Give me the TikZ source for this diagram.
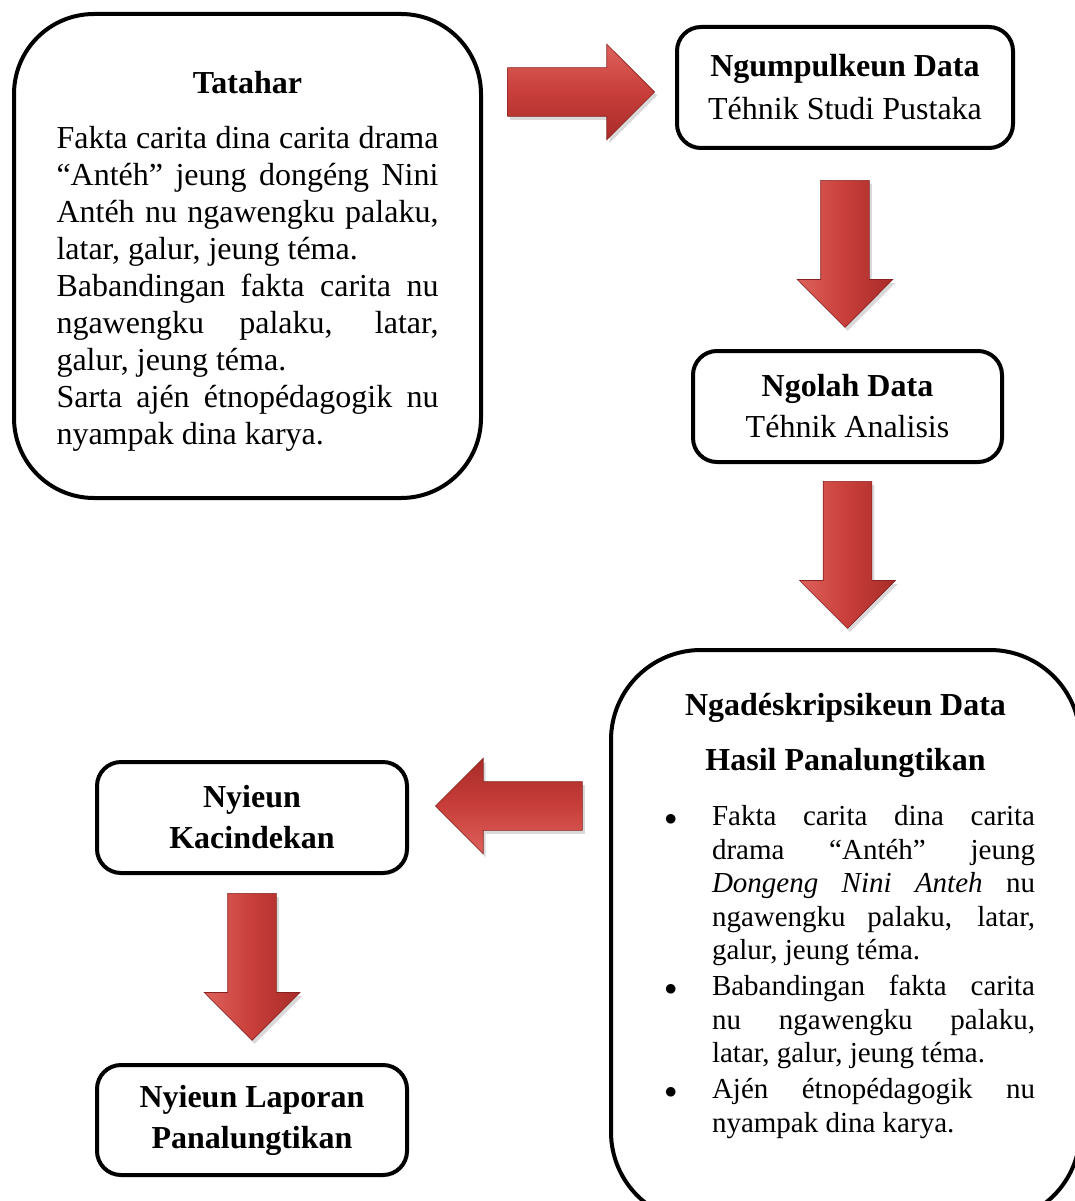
\documentclass[tikz,border=0pt]{standalone}
\usepackage{fontspec}
\setmainfont{Liberation Serif}
\usetikzlibrary{positioning, shapes.arrows, shadows}

\definecolor{panahbeureum}{RGB}{200,62,58}
\definecolor{panahcaang}{RGB}{222,98,92}
\definecolor{panahpoek}{RGB}{168,44,41}

\setlength{\parindent}{0pt}
\hbadness=10000
\hyphenpenalty=10000

% one bullet item of the description box
\newcommand{\butir}[1]{\par\vspace{2.5pt}\hangindent=56pt\hangafter=0\noindent\llap{$\bullet$\hspace{35pt}}#1\par}

\tikzset{
    kotak/.style={draw, line width=4pt, rounded corners=24pt, align=center, inner sep=0pt,
                  font=\fontsize{32pt}{37pt}\selectfont},
    kotak gede/.style={kotak, rounded corners=80pt, align=justify},
    panah/.style={single arrow, single arrow head extend=23.5pt, minimum height=147pt,
                  inner sep=24pt, draw=panahpoek!80!black, line width=0.6pt,
                  drop shadow={shadow xshift=2.5pt, shadow yshift=-3.5pt, opacity=.3}},
    panah kanan/.style={panah, top color=panahcaang, bottom color=panahpoek, middle color=panahbeureum},
    panah kenca/.style={panah, shape border rotate=180, top color=panahpoek, bottom color=panahcaang, middle color=panahbeureum},
    panah handap/.style={panah, shape border rotate=270, left color=panahcaang, right color=panahpoek, middle color=panahbeureum}
}

\begin{document}
\begin{tikzpicture}[x=1pt, y=-1pt]
    \useasboundingbox (0,0) rectangle (1075,1201);

    \node[kotak gede, text width=382pt, minimum width=467pt, minimum height=484pt] (tatahar) at (247.5,256)
    {{\centering\rule{0pt}{32pt}\textbf{Tatahar}\par}\vspace{18pt}
     Fakta carita dina carita drama\linebreak “Antéh” jeung dongéng Nini\linebreak Antéh nu ngawengku palaku,\linebreak latar, galur, jeung téma.\par
     Babandingan fakta carita nu\linebreak ngawengku palaku, latar,\linebreak galur, jeung téma.\par
     Sarta ajén étnopédagogik nu\linebreak nyampak dina karya.};
    \node[kotak, minimum width=336pt, minimum height=121pt] (kumpul) at (845,87.5)
    {\textbf{Ngumpulkeun Data}\\[6pt]Téhnik Studi Pustaka};
    \node[kotak, minimum width=309pt, minimum height=111pt] (olah) at (847.5,406.5)
    {\textbf{Ngolah Data}\\[4pt]Téhnik Analisis};
    \node[kotak gede, rounded corners=90pt, text width=379pt, minimum width=469pt, minimum height=572pt] (deskripsi) at (845.5,936)
    {{\centering\textbf{Ngadéskripsikeun Data}\par\vspace{18pt}\textbf{Hasil Panalungtikan}\par}
     \fontsize{29pt}{33.5pt}\selectfont\vspace{19pt}
     \butir{Fakta carita dina carita\linebreak drama “Antéh” jeung\linebreak \textit{Dongeng Nini Anteh} nu\linebreak ngawengku palaku, latar,\linebreak galur, jeung téma.}
     \butir{Babandingan fakta carita\linebreak nu ngawengku palaku,\linebreak latar, galur, jeung téma.}
     \butir{Ajén étnopédagogik nu\linebreak nyampak dina karya.\rule[-46pt]{0pt}{46pt}}};
    \node[kotak, minimum width=310pt, minimum height=111pt] (kacindekan) at (252,817.5)
    {\textbf{Nyieun}\\[4pt]\textbf{Kacindekan}};
    \node[kotak, minimum width=310pt, minimum height=110pt] (laporan) at (252,1120)
    {\textbf{Nyieun Laporan}\\[4pt]\textbf{Panalungtikan}};

    \node[panah kanan, left=20pt of kumpul, yshift=-4.5pt] (p1) {};
    \node[panah handap, below=30pt of kumpul] (p2) {};
    \node[panah handap, below=17pt of olah] (p3) {};
    \node[panah kenca, right=26pt of kacindekan, yshift=11.5pt] (p4) {};
    \node[panah handap, below=18pt of kacindekan] (p5) {};
\end{tikzpicture}
\end{document}
